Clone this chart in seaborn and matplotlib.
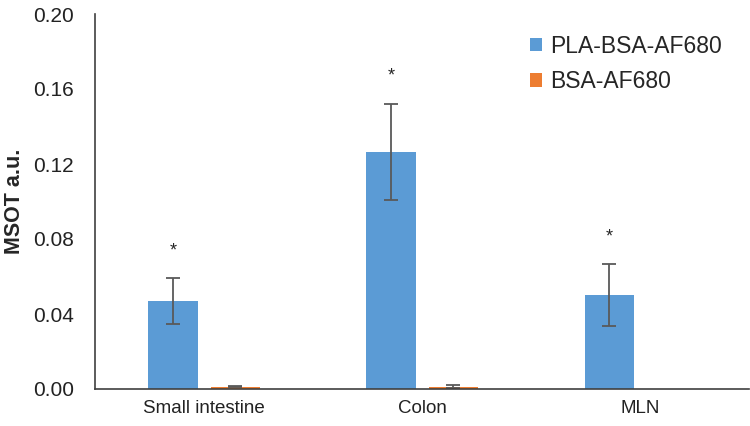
import pandas as pd
import seaborn as sns
import matplotlib.pyplot as plt
import numpy as np

# Values
tissues = ['Small intestine', 'Colon', 'MLN']
groups = ['PLA-BSA-AF680', 'BSA-AF680']
pla_mean = [0.0469, 0.1264, 0.0502]
pla_err = [0.0124, 0.0258, 0.0166]
bsa_mean = [0.0013, 0.0013, 0.0]
bsa_err = [0.0002, 0.0006, 0.0]
stars = ['*', '*', '*']

df = pd.DataFrame({
    'tissue': tissues * 2,
    'group': [groups[0]] * 3 + [groups[1]] * 3,
    'value': pla_mean + bsa_mean,
    'err': pla_err + bsa_err,
})

sns.set_style('white')
plt.rcParams['font.family'] = ['Liberation Sans', 'DejaVu Sans']

fig, ax = plt.subplots(figsize=(7.5, 4.26), dpi=100)
fig.subplots_adjust(left=95/750, right=0.999, top=1-14/426, bottom=1-389/426)

palette = {'PLA-BSA-AF680': '#5B9BD5', 'BSA-AF680': '#ED7D31'}
sns.barplot(data=df, x='tissue', y='value', hue='group', palette=palette,
            width=0.57, gap=0.21, errorbar=None, saturation=1, linewidth=0,
            ax=ax)

# error bars on the bar centres
patches = list(ax.patches)[:len(df)]
for p, (_, row) in zip(patches, df.iterrows()):
    cx = p.get_x() + p.get_width() / 2
    if row['err'] > 0:
        ax.errorbar(cx, row['value'], yerr=row['err'], color='#595959',
                    capsize=5, elinewidth=1.3, capthick=1.3)

# significance stars above the PLA bars
for p, m, e, s in zip(patches[:3], pla_mean, pla_err, stars):
    cx = p.get_x() + p.get_width() / 2
    ax.text(cx, m + e + 0.0145, s, ha='center', va='center', fontsize=13)

ax.set_ylim(0, 0.20)
ax.set_yticks(np.arange(0, 0.201, 0.04))
ax.set_yticklabels([f'{v:.2f}' for v in np.arange(0, 0.201, 0.04)])
ax.set_xlim(-0.5, 2.5)
ax.set_xlabel('')
ax.set_ylabel('MSOT a.u.', fontsize=15.5, fontweight='bold', labelpad=6)
ax.tick_params(axis='y', labelsize=15, length=0, pad=15, colors='#222222')
ax.tick_params(axis='x', labelsize=13.5, length=0, pad=8, colors='#222222')

for side in ['top', 'right']:
    ax.spines[side].set_visible(False)
for side in ['left', 'bottom']:
    ax.spines[side].set_color('#404040')
    ax.spines[side].set_linewidth(1.2)

ax.legend(loc='upper right', bbox_to_anchor=(0.99, 1.0), frameon=False,
          fontsize=16.5, handlelength=0.55, handleheight=0.55, handletextpad=0.35,
          labelspacing=0.55)

fig.savefig('out.png', dpi=100)
